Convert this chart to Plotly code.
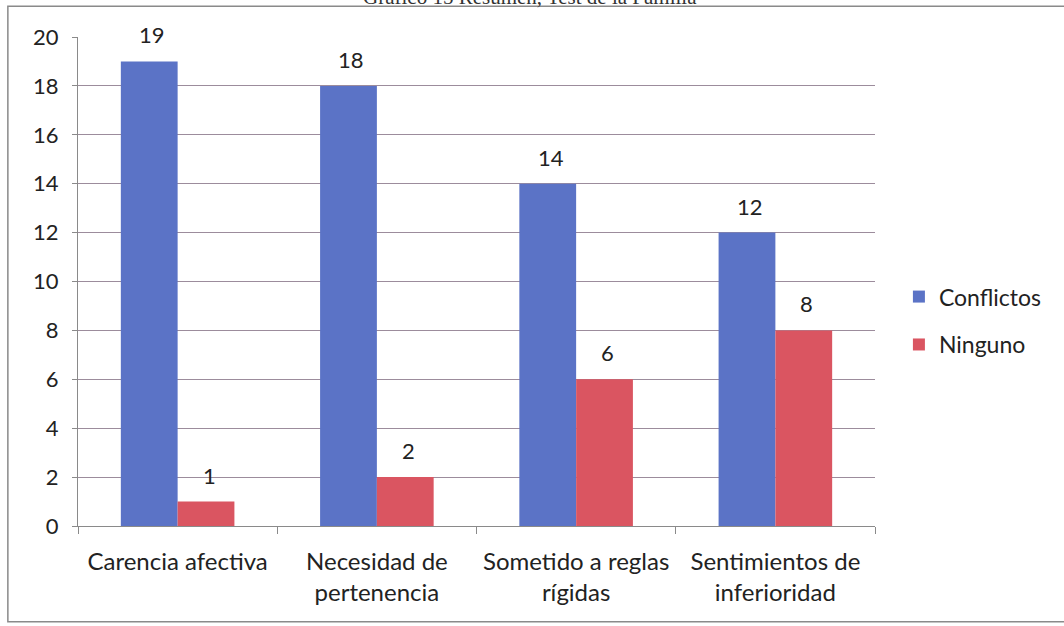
import plotly.graph_objects as go

# Datos del gráfico
categorias = ["Carencia afectiva", "Necesidad de<br>pertenencia", "Sometido a reglas<br>rígidas", "Sentimientos de<br>inferioridad"]
conflictos = [19, 18, 14, 12]
ninguno = [1, 2, 6, 8]
y_ticks = [0, 2, 4, 6, 8, 10, 12, 14, 16, 18, 20]

fuente = "Lato, Open Sans, sans-serif"
ancho_plot = 1064 - 78 - 189
desplaz = (1 - 0.43) * ancho_plot / 4 / 4  # medio ancho de barra en px

fig = go.Figure()
fig.add_trace(go.Bar(x=categorias, y=conflictos, name="Conflictos", legendgroup="c",
                     marker=dict(color="#5B73C6", line=dict(width=0))))
fig.add_trace(go.Bar(x=categorias, y=ninguno, name="Ninguno", legendgroup="n",
                     marker=dict(color="#DA5561", line=dict(width=0))))

# etiquetas de valor sobre las barras
etiquetas = []
for serie, dx in ((conflictos, -desplaz), (ninguno, desplaz)):
    for cat, v in zip(categorias, serie):
        etiquetas.append(dict(x=cat, y=v, text=str(v), xref="x", yref="y",
                              xshift=dx + 3, yshift=11, yanchor="bottom", showarrow=False,
                              font=dict(size=22, color="#222", family=fuente)))

etiquetas.append(dict(text="Gráfico 15 Resumen, Test de la Familia", xref="paper", yref="paper",
                      x=0.567, y=1.082, yanchor="middle", showarrow=False,
                      font=dict(family="Liberation Serif, serif", size=21, color="#333")))

fig.update_layout(
    width=1064, height=626,
    margin=dict(l=78, r=189, t=37, b=100),
    paper_bgcolor="white", plot_bgcolor="white",
    barmode="group", bargap=0.43, bargroupgap=0,
    font=dict(family=fuente, color="#222"),
    showlegend=True,
    legend=dict(x=1.03, y=0.42, yanchor="middle", font=dict(size=23),
                itemwidth=30, tracegroupgap=15, bgcolor="rgba(0,0,0,0)"),
    xaxis=dict(showline=True, linecolor="#8a8a8a", linewidth=1,
               ticks="outside", ticklen=7, tickcolor="#8a8a8a",
               tickson="boundaries", tickfont=dict(size=24, color="#222"),
               ticklabelstandoff=14),
    yaxis=dict(range=[0, 20], tickvals=y_ticks, showline=True, linecolor="#8a8a8a",
               showgrid=True, gridcolor="#9c8c9c", gridwidth=1, zeroline=False,
               ticks="outside", ticklen=5, tickcolor="#8a8a8a",
               tickfont=dict(size=22, color="#222"), ticklabelstandoff=9),
    shapes=[dict(type="rect", xref="paper", yref="paper",
                 x0=-0.088, x1=1.3, y0=-0.196, y1=1.063,
                 line=dict(color="#8a8a8a", width=1.5))],
    annotations=etiquetas,
)

fig.write_html("out.html", config={"displayModeBar": False},
               post_script="document.body.style.margin='0';")
